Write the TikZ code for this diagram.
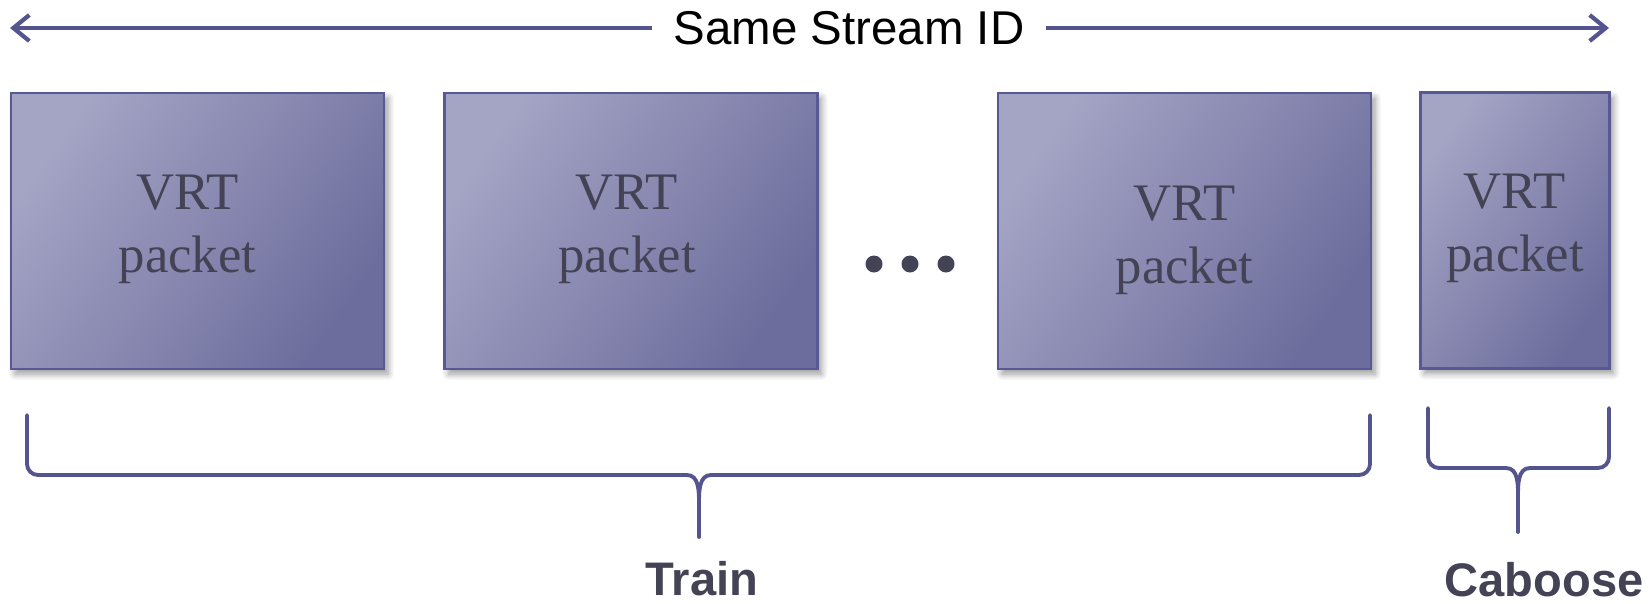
\documentclass[tikz,border=0pt]{standalone}
\usepackage{fontspec}
\setmainfont{Liberation Serif}
\setsansfont{Liberation Sans}
\usepackage{tikz}
\usetikzlibrary{arrows.meta}
\usetikzlibrary{shadows.blur}

\definecolor{boxlight}{RGB}{164,164,197}
\definecolor{boxdark}{RGB}{109,109,157}
\definecolor{boxedge}{RGB}{88,88,148}
\definecolor{linecol}{RGB}{84,84,142}
\definecolor{textcol}{RGB}{67,67,85}

\tikzset{
    packet/.style={draw=boxedge, line width=0.6pt, inner sep=0pt, outer sep=0pt,
        minimum width=3.73cm, minimum height=2.76cm,
        top color=boxlight, bottom color=boxdark, shading angle=55,
        blur shadow={shadow xshift=0.04cm, shadow yshift=-0.05cm, shadow blur steps=6, shadow opacity=40}},
    pktext/.style={align=center, text=textcol, font=\fontsize{15}{17.9}\selectfont},
    arrowline/.style={draw=linecol, line width=1.2pt, -{Straight Barb[length=1.6mm,width=2.6mm]}},
    bracket/.style={draw=linecol, line width=1.1pt, line cap=round},
    bracelabel/.style={text=textcol, font=\sffamily\bfseries\fontsize{13.4}{16}\selectfont, anchor=base}
}

\begin{document}
\begin{tikzpicture}[scale=1]
                \useasboundingbox (0,0) rectangle (16.52,-6.03);

                % Define the coordinates of the arrow ends
                \coordinate (al) at (0.10,-0.28);
                \coordinate (ar) at (16.09,-0.28);

                \node[font=\sffamily\fontsize{13.5}{16}\selectfont, inner xsep=0.21cm] (ssid) at (8.49,-0.28) {Same Stream ID};
                \draw[arrowline] (ssid.west) -- (al);
                \draw[arrowline] (ssid.east) -- (ar);

                % The packets
                \node[packet] (p1) at (1.975,-2.31) {};
                \node[packet] (p2) at (6.31,-2.31) {};
                \node[packet] (p3) at (11.845,-2.31) {};
                \node[packet, minimum width=1.89cm] (p4) at (15.15,-2.305) {};

                \node[pktext, xshift=-0.10cm, yshift=0.02cm] (t1) at (p1) {VRT\\packet};
                \node[pktext, xshift=-0.04cm, yshift=0.02cm] (t2) at (p2) {VRT\\packet};
                \node[pktext, yshift=-0.09cm] (t3) at (p3) {VRT\\packet};
                \node[pktext, yshift=0.02cm] (t4) at (p4) {VRT\\packet};

                \foreach \x in {8.74,9.10,9.46}
                    \fill[textcol] (\x,-2.64) circle (0.085);

                % Train brace
                \draw[bracket] (0.27,-4.15) -- (0.27,-4.64) to[out=-90,in=180] (0.38,-4.75) -- (6.87,-4.75)
                    to[out=0,in=90] (6.99,-5.03) to[out=90,in=180] (7.11,-4.75) -- (13.59,-4.75)
                    to[out=0,in=-90] (13.70,-4.64) -- (13.70,-4.15);
                \draw[bracket] (6.99,-5.03) -- (6.99,-5.37);

                % Caboose brace
                \draw[bracket] (14.28,-4.08) -- (14.28,-4.57) to[out=-90,in=180] (14.39,-4.68) -- (15.06,-4.68)
                    to[out=0,in=90] (15.18,-4.98) to[out=90,in=180] (15.30,-4.68) -- (15.98,-4.68)
                    to[out=0,in=-90] (16.09,-4.57) -- (16.09,-4.08);
                \draw[bracket] (15.18,-4.98) -- (15.18,-5.32);

                \node[bracelabel] (train) at (7.02,-5.95) {Train};
                \node[bracelabel] (caboose) at (15.44,-5.965) {Caboose};
\end{tikzpicture}
\end{document}
